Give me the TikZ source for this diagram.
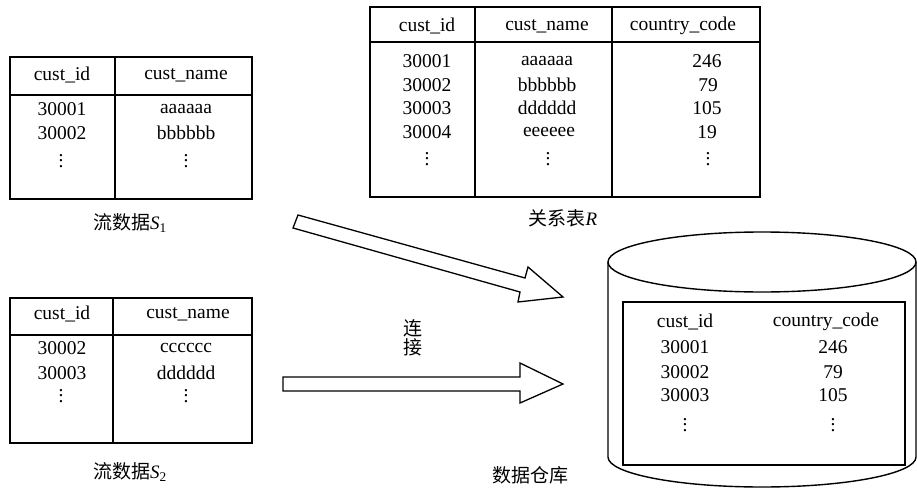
\documentclass[tikz,border=0pt]{standalone}
\usepackage{fontspec}
\setmainfont{Liberation Serif}
\newfontfamily\cjk{Noto Sans CJK SC}
\newcommand\vd{\vbox{\baselineskip5.5pt\lineskiplimit0pt\hbox{.}\hbox{.}\hbox{.}}}
\begin{document}
\begin{tikzpicture}[x=1pt,y=-1pt,
  tbl/.style={draw=black,line width=1.8pt},
  blk/.style={draw=black,line width=1.3pt,fill=white,line join=miter},
  cyl/.style={draw=black,line width=1.4pt},
  txt/.style={inner sep=0pt,font=\fontsize{19.5}{20}\selectfont},
  lbl/.style={inner sep=0pt,font=\fontsize{19}{21}\selectfont}]
\useasboundingbox (0,0) rectangle (917,492);

% ---- Table S1
\draw[tbl] (10,57) rectangle (252,199);
\draw[tbl] (10,95) -- (252,95);
\draw[tbl] (115,57) -- (115,199);
\node[txt] (s1h1) at (62,75) {cust\_id};
\node[txt] (s1h2) at (186,75) {cust\_name};
\node[txt] (s1a1) at (62,109) {30001};
\node[txt] (s1a2) at (186,109) {aaaaaa};
\node[txt] (s1b1) at (62,133) {30002};
\node[txt] (s1b2) at (186,133) {bbbbbb};
\node[txt] (s1c1) at (61,161) {\vd};
\node[txt] (s1c2) at (186,161) {\vd};
\node[lbl] (s1l) at (130,223) {{\cjk 流数据}\textit{S}\textsubscript{1}};

% ---- Table S2
\draw[tbl] (10,298) rectangle (252,443);
\draw[tbl] (10,335) -- (252,335);
\draw[tbl] (113,298) -- (113,443);
\node[txt] (s2h1) at (62,314) {cust\_id};
\node[txt] (s2h2) at (188,314) {cust\_name};
\node[txt] (s2a1) at (62,348) {30002};
\node[txt] (s2a2) at (186,348) {cccccc};
\node[txt] (s2b1) at (62,373) {30003};
\node[txt] (s2b2) at (186,373) {dddddd};
\node[txt] (s2c1) at (61,396) {\vd};
\node[txt] (s2c2) at (186,396) {\vd};
\node[lbl] (s2l) at (130,472) {{\cjk 流数据}\textit{S}\textsubscript{2}};

% ---- Table R
\draw[tbl] (370,7) rectangle (760,197);
\draw[tbl] (370,42) -- (760,42);
\draw[tbl] (475,7) -- (475,197);
\draw[tbl] (612,7) -- (612,197);
\node[txt] (rh1) at (427,26) {cust\_id};
\node[txt] (rh2) at (547,26) {cust\_name};
\node[txt] (rh3) at (683,26) {country\_code};
\node[txt] (ra1) at (427,61) {30001};
\node[txt] (ra2) at (547,61) {aaaaaa};
\node[txt] (ra3) at (707,61) {246};
\node[txt] (rb1) at (427,85) {30002};
\node[txt] (rb2) at (547,85) {bbbbbb};
\node[txt] (rb3) at (708,85) {79};
\node[txt] (rc1) at (427,108) {30003};
\node[txt] (rc2) at (547,108) {dddddd};
\node[txt] (rc3) at (707,108) {105};
\node[txt] (rd1) at (427,132) {30004};
\node[txt] (rd2) at (549,132) {eeeeee};
\node[txt] (rd3) at (707,132) {19};
\node[txt] (re1) at (427,159) {\vd};
\node[txt] (re2) at (548,159) {\vd};
\node[txt] (re3) at (708,159) {\vd};
\node[lbl] (rl) at (563,218) {{\cjk 关系表}\textit{R}};

% ---- Block arrows
\draw[blk] (298,215) -- (525,278) -- (528,267) -- (563,297) -- (518,302) -- (520,292) -- (293,228) -- cycle;
\draw[blk] (283,377) -- (520,377) -- (520,363) -- (563,384) -- (520,403) -- (520,391) -- (283,391) -- cycle;
\node[lbl,align=center] (join) at (413,338) {\cjk 连\\[-2pt]\cjk 接};

% ---- Cylinder (data warehouse)
\draw[cyl] (608,262) -- (608,457) arc[start angle=180,end angle=360,x radius=154pt,y radius=30pt] -- (916,262);
\draw[cyl] (762,262) ellipse [x radius=154pt,y radius=30pt];
\draw[tbl] (623,302) rectangle (905,465);
\node[txt] (wh1) at (685,322) {cust\_id};
\node[txt] (wh2) at (826,322) {country\_code};
\node[txt] (wa1) at (685,347) {30001};
\node[txt] (wa2) at (833,347) {246};
\node[txt] (wb1) at (685,372) {30002};
\node[txt] (wb2) at (833,372) {79};
\node[txt] (wc1) at (685,395) {30003};
\node[txt] (wc2) at (833,395) {105};
\node[txt] (wd1) at (685,425) {\vd};
\node[txt] (wd2) at (833,425) {\vd};
\node[lbl] (wl) at (530,475) {\cjk 数据仓库};
\end{tikzpicture}
\end{document}
